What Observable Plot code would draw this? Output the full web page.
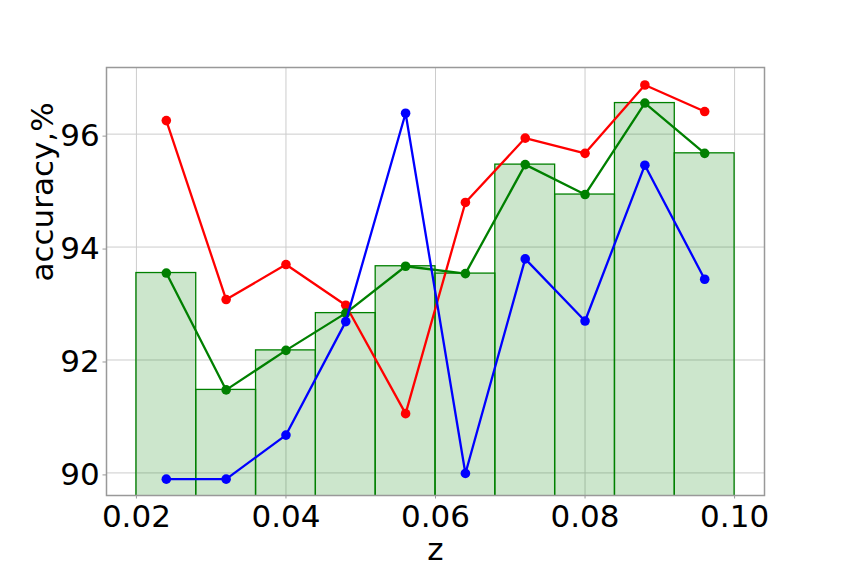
<!DOCTYPE html>
<html>
<head>
<meta charset="utf-8">
<script src="https://cdn.jsdelivr.net/npm/d3@7"></script>
<script src="https://cdn.jsdelivr.net/npm/@observablehq/plot@0.6"></script>
<style>
  html, body { margin: 0; padding: 0; background: #fff; }
</style>
</head>
<body>
<div id="chart"></div>
<script>
// Data
const zCenters = [0.024, 0.032, 0.040, 0.048, 0.056, 0.064, 0.072, 0.080, 0.088, 0.096];
const binLeft  = [0.020, 0.028, 0.036, 0.044, 0.052, 0.060, 0.068, 0.076, 0.084, 0.092];
const binRight = [0.028, 0.036, 0.044, 0.052, 0.060, 0.068, 0.076, 0.084, 0.092, 0.100];
const greenVals = [93.54, 91.47, 92.17, 92.83, 93.66, 93.53, 95.46, 94.93, 96.55, 95.66];
const redVals   = [96.24, 93.07, 93.69, 92.97, 91.05, 94.79, 95.93, 95.66, 96.87, 96.40];
const blueVals  = [89.89, 89.89, 90.67, 92.68, 96.37, 89.99, 93.79, 92.69, 95.45, 93.43];
const xTicks = [0.02, 0.04, 0.06, 0.08, 0.10];
const yTicks = [90, 92, 94, 96];
const xLabel = "z";
const yLabel = "accuracy,%";

const bars = zCenters.map((z, i) => ({x1: binLeft[i], x2: binRight[i], v: greenVals[i]}));
const series = (vals) => zCenters.map((z, i) => ({z, v: vals[i]}));
const red = series(redVals), green = series(greenVals), blue = series(blueVals);

const axisColor = "#999999";
const chart = Plot.plot({
  width: 850,
  height: 567,
  marginLeft: 106,
  marginRight: 86,
  marginTop: 67,
  marginBottom: 72,
  style: {fontFamily: "'DejaVu Sans', sans-serif", fontSize: "31px", background: "#fff", color: "#000"},
  x: {domain: [0.016, 0.104]},
  y: {domain: [89.6, 97.18]},
  marks: [
    Plot.gridX(xTicks, {stroke: "#cccccc", strokeOpacity: 1, strokeWidth: 1}),
    Plot.gridY(yTicks, {stroke: "#cccccc", strokeOpacity: 1, strokeWidth: 1}),
    Plot.rect(bars, {x1: "x1", x2: "x2", y1: 0, y2: "v", fill: "green", fillOpacity: 0.2, stroke: "green", strokeWidth: 1.3, clip: true}),
    Plot.line(red, {x: "z", y: "v", stroke: "#ff0000", strokeWidth: 2.3}),
    Plot.dot(red, {x: "z", y: "v", fill: "#ff0000", r: 4.8}),
    Plot.line(green, {x: "z", y: "v", stroke: "#008000", strokeWidth: 2.3}),
    Plot.dot(green, {x: "z", y: "v", fill: "#008000", r: 4.8}),
    Plot.line(blue, {x: "z", y: "v", stroke: "#0000ff", strokeWidth: 2.3}),
    Plot.dot(blue, {x: "z", y: "v", fill: "#0000ff", r: 4.8}),
    Plot.frame({stroke: axisColor, strokeWidth: 1.5}),
    Plot.axisX(xTicks, {tickFormat: d3.format(".2f"), tickSize: 3.5, tickPadding: 5.5, stroke: axisColor, fill: "#000", label: null, fontSize: 31}),
    Plot.axisY(yTicks, {tickFormat: d3.format("d"), tickSize: 3.5, tickPadding: 3.2, stroke: axisColor, fill: "#000", label: null, fontSize: 31, dy: 2}),
    Plot.text([xLabel], {frameAnchor: "bottom", dy: 55, lineAnchor: "middle", fontSize: 31, fill: "#000"}),
    Plot.text([yLabel], {frameAnchor: "left", dx: -63, rotate: -90, lineAnchor: "middle", fontSize: 31, fill: "#000"})
  ]
});
document.getElementById("chart").appendChild(chart);
</script>
</body>
</html>
